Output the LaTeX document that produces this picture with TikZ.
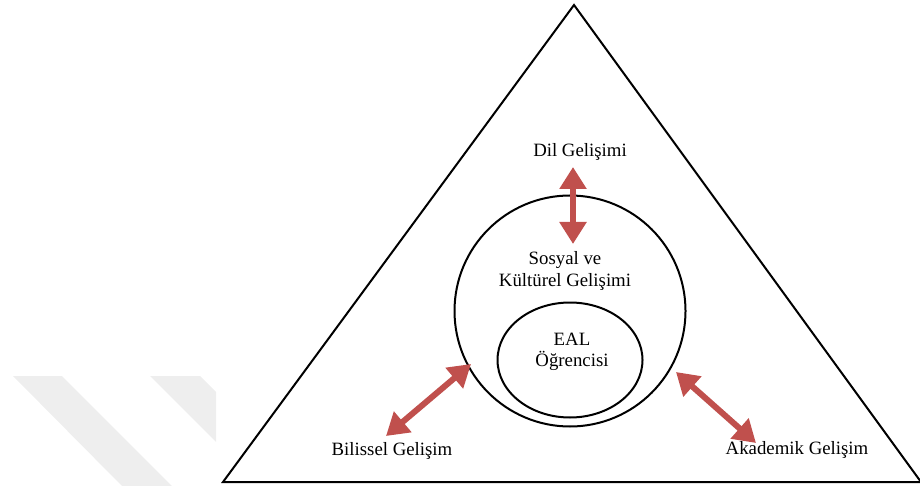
\documentclass[tikz,border=0pt]{standalone}
\usepackage{fontspec}
\setmainfont{Liberation Serif}
\usepackage{tikz}
\usetikzlibrary{positioning}
\usetikzlibrary{arrows.meta}
\usetikzlibrary{shapes.geometric}
\pgfdeclarelayer{nodelayer}
\pgfdeclarelayer{edgelayer}
\pgfsetlayers{nodelayer,edgelayer,main}
\definecolor{arrowred}{HTML}{C0504D}
\definecolor{markgrey}{HTML}{EEEEEE}
\tikzset{
    none/.style = {inner sep=0pt},
    lbl/.style = {inner sep=0pt, align=center, font=\fontsize{9.4}{10.6}\selectfont},
    ring/.style = {draw, line width=1pt},
    twoway/.style = {draw=arrowred, line width=3pt,
      {Triangle[width=13pt,length=11pt]}-{Triangle[width=13pt,length=11pt]}}
}

\begin{document}
\begin{tikzpicture}[x=0.5pt, y=-0.5pt]
  \useasboundingbox (0, 0) rectangle (920, 486);
  \begin{pgfonlayer}{nodelayer}
    % faint marks at the left
    \fill [markgrey] (13, 376) -- (62, 376) -- (172, 486) -- (122, 486) -- cycle;
    \fill [markgrey] (150, 376) -- (200, 376) -- (216, 392) -- (216, 442) -- cycle;
    \draw [line width=1pt, line join=miter] (574, 5) -- (921, 482) -- (223, 482) -- cycle;
    \node [ring, circle, minimum size=115.5pt, inner sep=0pt] (social) at (570, 311) {};
    \node [ring, ellipse, minimum width=72.5pt, minimum height=57.5pt, inner sep=0pt] (learner) at (570, 360) {};
    \node [style=none] (0) at (573, 167) {};
    \node [style=none] (1) at (573, 244) {};
    \node [style=none] (2) at (471, 364) {};
    \node [style=none] (3) at (386, 436) {};
    \node [style=none] (4) at (676, 372) {};
    \node [style=none] (5) at (756, 443) {};
  \end{pgfonlayer}
  \begin{pgfonlayer}{edgelayer}
    \draw [twoway] (0.center) to (1.center);
    \draw [twoway] (2.center) to (3.center);
    \draw [twoway] (4.center) to (5.center);
  \end{pgfonlayer}
  \node [lbl] (dil) at (580, 152) {Dil Gelişimi};
  \node [lbl] (sosyal) at (565, 271) {Sosyal ve\\Kültürel Gelişimi};
  \node [lbl] (eal) at (572, 352) {EAL\\Öğrencisi};
  \node [lbl] (bilissel) at (392, 451) {Bilissel Gelişim};
  \node [lbl] (akademik) at (797, 450) {Akademik Gelişim};
\end{tikzpicture}
\end{document}
